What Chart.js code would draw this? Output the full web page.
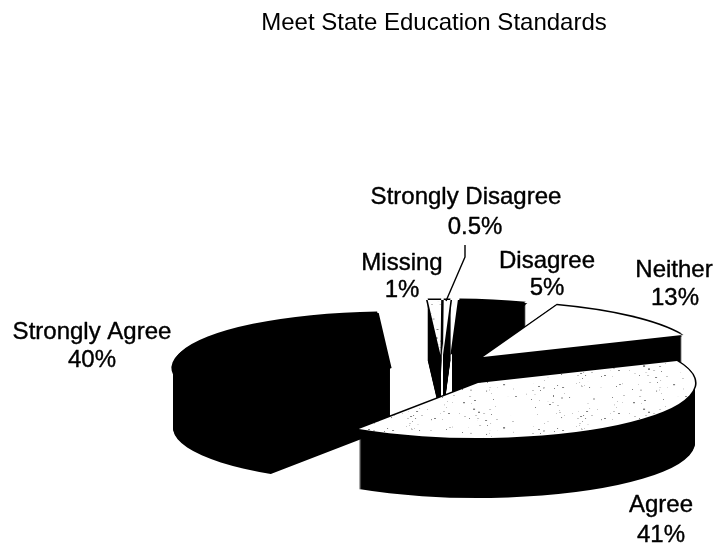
<!DOCTYPE html>
<html><head><meta charset="utf-8">
<style>html,body{margin:0;padding:0;background:#fff}canvas{display:block}</style>
<script src="https://cdn.jsdelivr.net/npm/chart.js@4"></script>
</head><body><canvas id="c" width="717" height="547"></canvas>
<script>
const titleText = 'Meet State Education Standards';
const categories = ['Missing','Strongly Disagree','Disagree','Neither','Agree','Strongly Agree'];
const percents = [1,0.5,5,13,41,40];
const percentLabels = ['1%','0.5%','5%','13%','41%','40%'];
const sliceColors = ['#ffffff','#ffffff','#000000','#ffffff','#ffffff','#000000'];

// deterministic speckle for the stippled slices
function speckle(){
  const s=document.createElement('canvas'); s.width=170; s.height=170;
  const g=s.getContext('2d'); g.fillStyle='#fff'; g.fillRect(0,0,170,170);
  let h=17;
  for(let i=0;i<110;i++){
    h=(h*137+59)%1009; const x=h%170;
    h=(h*137+59)%1009; const y=h%170;
    h=(h*137+59)%1009; g.fillStyle=h%3?'#c4c4c4':'#808080';
    g.fillRect(x,y,1+h%2,2+h%4);
  }
  return document.createElement('canvas').getContext('2d').createPattern(s,'repeat');
}
const stipple=speckle();

const pie3d={
  id:'pie3d',
  beforeDatasetsDraw(chart,args,o){
    const ctx=chart.ctx, arcs=chart.getDatasetMeta(0).data;
    const Arc=Chart.ArcElement.prototype;
    const paint=(arc,fill,tx,ty)=>{
      const c=Object.create(arc);
      c.options={backgroundColor:fill,borderColor:fill,borderWidth:0,borderAlign:'center',offset:0,spacing:0,borderRadius:0,circular:true,selfJoin:false,borderJoinStyle:'round',borderDash:[],borderDashOffset:0};
      ctx.save();
      ctx.translate(tx,ty); ctx.scale(1,o.squash); ctx.translate(-arc.x,-arc.y);
      Arc.draw.call(c,ctx);
      ctx.restore();
    };
    o.order.forEach(i=>{
      const arc=arcs[i], x=o.cx+o.shiftX[i], y=o.cy+o.shiftY[i];
      for(let d=o.depth;d>0;d--) paint(arc,'#000',x,y+d);
      [[-1.6,0],[1.6,0],[0,-1.6],[0,1.6]].forEach(p=>paint(arc,'#000',x+p[0],y+p[1]));
      const col=sliceColors[i];
      paint(arc,(i===0||i===4)?stipple:col,x,y);
    });
    return false;
  },
  afterDraw(chart,args,o){
    const ctx=chart.ctx;
    ctx.save();
    ctx.fillStyle='#000'; ctx.strokeStyle='#000'; ctx.lineWidth=0.4; ctx.lineJoin='round';
    ctx.font=o.font; ctx.textAlign='center'; ctx.textBaseline='middle';
    const both=(s,x,y)=>{ctx.fillText(s,x,y);ctx.strokeText(s,x,y);};
    categories.forEach((n,i)=>{
      const p=o.labels[i];
      both(n,p[0],p[1]);
      both(percentLabels[i],p[2],p[3]);
    });
    ctx.lineWidth=1.4;
    ctx.beginPath(); o.leader.forEach((p,k)=>k?ctx.lineTo(p[0],p[1]):ctx.moveTo(p[0],p[1])); ctx.stroke();
    ctx.restore();
  }
};

new Chart(document.getElementById('c'),{
  type:'pie',
  data:{labels:categories,datasets:[{data:percents,backgroundColor:sliceColors,borderWidth:0}]},
  options:{
    responsive:false,animation:false,
    rotation:-3.4,radius:217,
    layout:{padding:{left:151}},
    plugins:{
      legend:{display:false},tooltip:{enabled:false},
      title:{display:true,text:titleText,color:'#000',font:{family:'"Liberation Sans"',size:24,weight:'normal',lineHeight:1.2},padding:{top:9,bottom:0}},
      pie3d:{
        cx:460,cy:370,squash:0.2535,depth:60,
        order:[0,1,2,3,5,4],
        shiftX:[-19.5,-17,-8,23,18,-70],
        shiftY:[-15,-15,-15,-13,13,-2],
        font:'24px "Liberation Sans"',
        labels:[[402,263,402,290],[466,197,475,227],[547,261,547,288],[674,270,675,298],[661,505,661,535],[92,332,92,360]],
        leader:[[446,301],[465,257],[465,245]]
      }
    }
  },
  plugins:[pie3d]
});
</script></body></html>
